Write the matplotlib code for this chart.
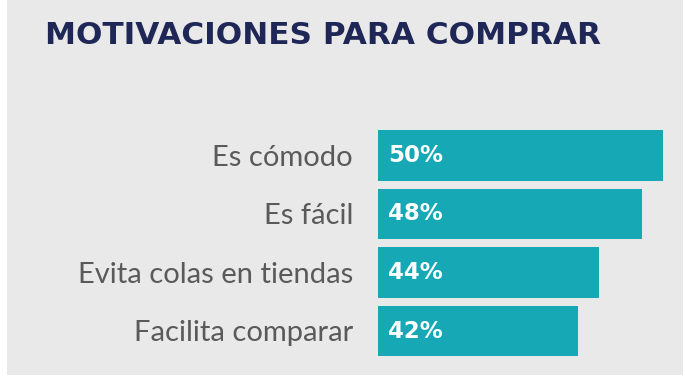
import matplotlib.pyplot as plt
from matplotlib.patches import Rectangle

categorias = ['Es cómodo', 'Es fácil', 'Evita colas en tiendas', 'Facilita comparar']
valores = [50, 48, 44, 42]
etiquetas = ['50%', '48%', '44%', '42%']

W, H = 685, 389
fig = plt.figure(figsize=(W / 100, H / 100), dpi=100)
fig.patch.set_facecolor('white')

# panel gris de fondo
fig.patches.append(Rectangle((7 / W, 1 - 375 / H), 676 / W, 375 / H,
                             transform=fig.transFigure, facecolor='#e9e9e9',
                             edgecolor='none', zorder=-5))

fig.text(45 / W, 1 - 35 / H, 'MOTIVACIONES PARA COMPRAR', fontsize=22.4,
         fontweight='bold', color='#1f2757', va='center', ha='left',
         family='DejaVu Sans')

top, bottom = 126.25, 360.25
ax = fig.add_axes([378 / W, 1 - bottom / H, 285 / W, (bottom - top) / H])
ax.set_facecolor('none')
ax.set_zorder(2)

y = list(range(len(categorias)))
ax.barh(y, valores, height=0.87, color='#17a8b6', zorder=2)
ax.set_xlim(23.1, 50)
ax.set_ylim(len(categorias) - 0.5, -0.5)

ax.set_yticks(y)
ax.set_yticklabels(categorias, fontsize=21, color='#5a5a5a', family='Lato')
ax.tick_params(axis='y', length=0, pad=18)
ax.set_xticks([])
for s in ax.spines.values():
    s.set_visible(False)

for yi, txt in zip(y, etiquetas):
    ax.annotate(txt, xy=(0, yi), xycoords=('axes fraction', 'data'),
                xytext=(7, 0), textcoords='offset points', ha='left',
                va='center', fontsize=16.5, fontweight='bold', color='white')

fig.savefig('out.png', dpi=100)
